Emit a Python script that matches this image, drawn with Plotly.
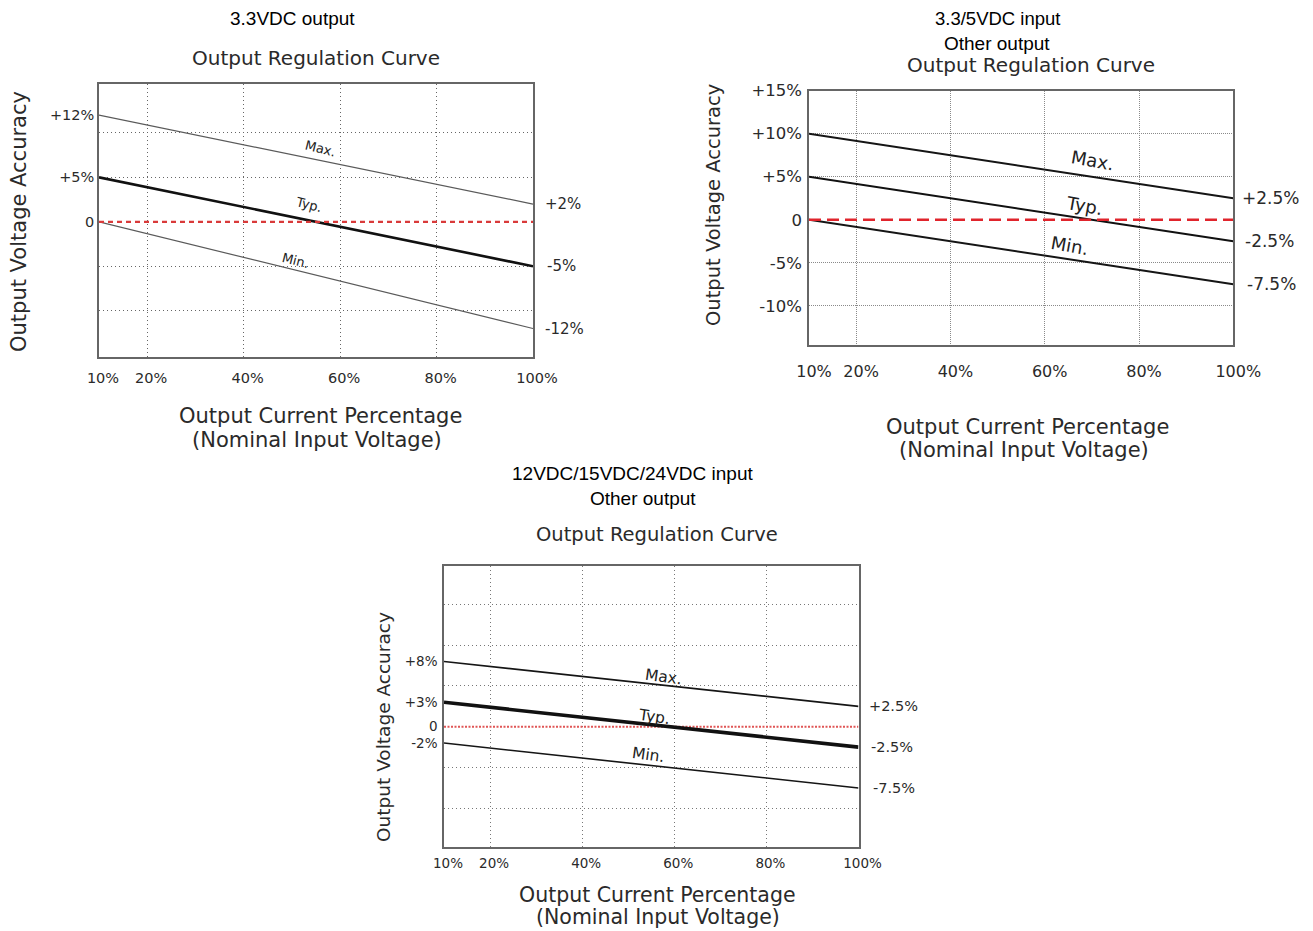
import plotly.graph_objects as go

# page body has an 8px margin, so the figure is sized to fill the rest of the window
OFF = 8
W, H = 1313 - OFF, 931 - OFF

# ---------------- data ----------------
load_pct = [10, 100]
x_tick_vals = [10, 20, 40, 60, 80, 100]
x_tick_text = ["10%", "20%", "40%", "60%", "80%", "100%"]
nominal = [0, 0]

# chart 1: 3.3VDC output
c1_max = [12, 2]
c1_typ = [5, -5]
c1_min = [0, -12]
c1_ytick_vals = [12, 5, 0]
c1_ytick_text = ["+12%", "+5%", "0"]
c1_ygrid = [-10, -5, 5, 10]
c1_end_text = ["+2%", "-5%", "-12%"]

# chart 2: 3.3/5VDC input, other output
c2_max = [10, 2.5]
c2_typ = [5, -2.5]
c2_min = [0, -7.5]
c2_ytick_vals = [15, 10, 5, 0, -5, -10]
c2_ytick_text = ["+15%", "+10%", "+5%", "0", "-5%", "-10%"]
c2_ygrid = [-10, -5, 5, 10]
c2_end_text = ["+2.5%", "-2.5%", "-7.5%"]

# chart 3: 12/15/24VDC input, other output
c3_max = [8, 2.5]
c3_typ = [3, -2.5]
c3_min = [-2, -7.5]
c3_ytick_vals = [8, 3, 0, -2]
c3_ytick_text = ["+8%", "+3%", "0", "-2%"]
c3_ygrid = [-10, -5, 5, 10, 15]
c3_end_text = ["+2.5%", "-2.5%", "-7.5%"]

curve_names = ["Max.", "Typ.", "Min."]

# ---------------- helpers ----------------
def px(x):
    return (x - OFF) / W

def py(y):
    return 1 - (y - OFF) / H

GOTH = "DejaVu Sans, Noto Sans, sans-serif"
HEAD = "Liberation Sans, Arial, sans-serif"
TXT = "#2a2a2a"

fig = go.Figure()

def add_chart(n, maxv, typv, minv, zero_dash, zero_w, zero_col, side_col, side_w, typ_w, zero_on_top):
    xa = "x" if n == 1 else f"x{n}"
    ya = "y" if n == 1 else f"y{n}"
    zero = go.Scatter(x=load_pct, y=nominal, mode="lines", xaxis=xa, yaxis=ya,
                      line=dict(color=zero_col, width=zero_w, dash=zero_dash),
                      hoverinfo="skip", showlegend=False)
    if not zero_on_top:
        fig.add_trace(zero)
    for vals, w, nm in [(maxv, side_w, "Max."), (typv, typ_w, "Typ."), (minv, side_w, "Min.")]:
        fig.add_trace(go.Scatter(x=load_pct, y=vals, mode="lines", xaxis=xa, yaxis=ya, name=nm,
                                 line=dict(color=side_col if nm != "Typ." else "#111111", width=w),
                                 showlegend=False))
    if zero_on_top:
        fig.add_trace(zero)

add_chart(1, c1_max, c1_typ, c1_min, "5px,4px", 2.4, "#d93a3a", "#5a5a5a", 1.2, 2.6, True)
add_chart(2, c2_max, c2_typ, c2_min, "12px,6px", 2.6, "#e0242c", "#151515", 2.0, 2.0, True)
add_chart(3, c3_max, c3_typ, c3_min, "2px,1.5px", 2.0, "#e05555", "#151515", 1.6, 3.6, False)

def xaxis(dom, fs, standoff, shift, gridcol, griddash, anchor):
    return dict(domain=dom, range=[10, 100], tickmode="array", tickvals=x_tick_vals,
                ticktext=x_tick_text, showgrid=True, gridcolor=gridcol, griddash=griddash,
                gridwidth=1, showline=True, mirror=True, linecolor="#666666", linewidth=1.5,
                ticks="", zeroline=False, tickfont=dict(family=GOTH, size=fs, color=TXT),
                ticklabelstandoff=standoff, ticklabelshift=shift, fixedrange=True,
                automargin=False, anchor=anchor)

def yaxis(dom, rng, tv, tt, grid, fs, standoff, gridcol, griddash, anchor):
    return dict(domain=dom, range=rng, tickmode="array", tickvals=tv, ticktext=tt,
                showgrid=False, showline=True, mirror=True, linecolor="#666666", linewidth=1.5,
                ticks="", zeroline=False, tickfont=dict(family=GOTH, size=fs, color=TXT),
                ticklabelstandoff=standoff, anchor=anchor, fixedrange=True, automargin=False,
                minor=dict(tickmode="array", tickvals=grid, showgrid=True, gridcolor=gridcol,
                           griddash=griddash, gridwidth=1, ticks=""))

fig.update_layout(
    template="none",
    width=W, height=H, autosize=False,
    margin=dict(l=0, r=0, t=0, b=0, pad=0),
    paper_bgcolor="white", plot_bgcolor="white",
    showlegend=False,
    xaxis=xaxis([px(99), px(533)], 14.5, 7, 4, "#666666", "1px,3px", "y"),
    yaxis=yaxis([py(357), py(84)], [-15.2, 15.5], c1_ytick_vals, c1_ytick_text, c1_ygrid,
                14.5, 0, "#666666", "1px,3px", "x"),
    xaxis2=xaxis([px(809), px(1233.3)], 16, 11, 5, "#8a8a8a", "1px,1px", "y2"),
    yaxis2=yaxis([py(345.3), py(90.7)], [-14.6, 15], c2_ytick_vals, c2_ytick_text, c2_ygrid,
                 16.5, 2, "#8a8a8a", "1px,1px", "x2"),
    xaxis3=xaxis([px(444), px(858.5)], 13.5, 3, 4, "#777777", "1px,3px", "y3"),
    yaxis3=yaxis([py(846.7), py(566)], [-14.7, 19.7], c3_ytick_vals, c3_ytick_text, c3_ygrid,
                 13.5, 2, "#777777", "1px,3px", "x3"),
)

ann = []

def paper_text(text, x, y, size, family, angle=0, color=TXT):
    ann.append(dict(text=text, x=px(x), y=py(y), xref="paper", yref="paper",
                    xanchor="center", yanchor="middle", showarrow=False, textangle=angle,
                    font=dict(family=family, size=size, color=color)))

# headings
paper_text("3.3VDC output", 292, 19, 19, HEAD, color="#000")
paper_text("3.3/5VDC input", 997, 19, 18.5, HEAD, color="#000")
paper_text("Other output", 997, 43, 19, HEAD, color="#000")
paper_text("12VDC/15VDC/24VDC input", 633, 473, 19, HEAD, color="#000")
paper_text("Other output", 643, 498, 19, HEAD, color="#000")

# chart titles
paper_text("Output Regulation Curve", 316, 58, 20, GOTH)
paper_text("Output Regulation Curve", 1031, 65, 20, GOTH)
paper_text("Output Regulation Curve", 657, 534, 19.5, GOTH)

# x titles
paper_text("Output Current Percentage", 320, 416, 21, GOTH)
paper_text("(Nominal Input Voltage)", 317, 440, 21, GOTH)
paper_text("Output Current Percentage", 1027, 427, 21, GOTH)
paper_text("(Nominal Input Voltage)", 1024, 450, 21, GOTH)
paper_text("Output Current Percentage", 657, 895, 20.5, GOTH)
paper_text("(Nominal Input Voltage)", 658, 917, 20.5, GOTH)

# y titles
paper_text("Output Voltage Accuracy", 19, 222, 21, GOTH, angle=-90)
paper_text("Output Voltage Accuracy", 714, 205, 19.5, GOTH, angle=-90)
paper_text("Output Voltage Accuracy", 383, 727, 18.5, GOTH, angle=-90)

# end-of-line labels (right side)
def end_labels(n, ends, texts, size, shifts):
    xa = "x" if n == 1 else f"x{n}"
    ya = "y" if n == 1 else f"y{n}"
    for v, t, s in zip(ends, texts, shifts):
        ann.append(dict(text=t, x=100, y=v, xref=xa, yref=ya, xanchor="left", yanchor="middle",
                        xshift=s, showarrow=False, font=dict(family=GOTH, size=size, color=TXT)))

end_labels(1, [c1_max[1], c1_typ[1], c1_min[1]], c1_end_text, 15, [10, 12, 10])
end_labels(2, [c2_max[1], c2_typ[1], c2_min[1]], c2_end_text, 17, [7, 10, 12])
end_labels(3, [c3_max[1], c3_typ[1], c3_min[1]], c3_end_text, 14.5, [8, 10, 12])

# curve name labels along the lines
def curve_labels(n, pos, size, angle):
    xa = "x" if n == 1 else f"x{n}"
    ya = "y" if n == 1 else f"y{n}"
    for nm, (xv, yv) in zip(curve_names, pos):
        ann.append(dict(text=nm, x=xv, y=yv, xref=xa, yref=ya, xanchor="center", yanchor="middle",
                        showarrow=False, textangle=angle,
                        font=dict(family=GOTH, size=size, color="#222")))

curve_labels(1, [(55.9, 8.3), (53.4, 1.9), (50.7, -4.3)], 13, 14)
curve_labels(2, [(70.2, 6.86), (68.4, 1.71), (65.3, -2.94)], 18, 10)
curve_labels(3, [(57.6, 6.13), (55.7, 1.23), (54.4, -3.47)], 15.5, 8)

fig.update_layout(annotations=ann)

fig.write_html("out.html")
